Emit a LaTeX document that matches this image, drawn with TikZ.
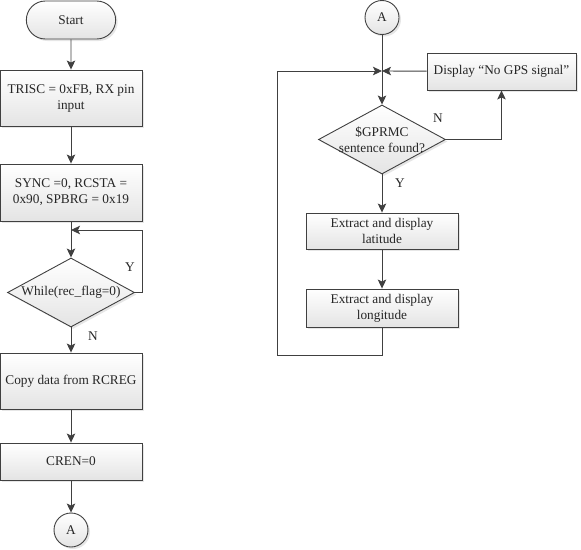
\documentclass[tikz,border=0pt]{standalone}
\usepackage{fontspec}
\setmainfont{Liberation Serif}
\usepackage{tikz}
\usetikzlibrary{arrows.meta,shapes.geometric,shapes.misc,shadows}

\definecolor{linegray}{HTML}{404040}
\definecolor{fillgray}{HTML}{E4E4E4}

\begin{document}
\begin{tikzpicture}[x=1pt,y=-1pt,>={Stealth[length=9pt,width=8.5pt,inset=2pt]},
                    line width=0.9pt,draw=linegray,
                    every node/.style={font=\fontsize{13.3}{16}\selectfont,text=black!85},
                    shaded/.style={draw=linegray,top color=white,bottom color=fillgray,
                      drop shadow={opacity=0.2,shadow xshift=2pt,shadow yshift=-2pt}},
                    process/.style={shaded,rectangle,minimum width=142pt,align=center,inner sep=0pt},
                    terminal/.style={shaded,rounded rectangle,minimum width=96pt,minimum height=38pt},
                    decision/.style={shaded,diamond,minimum width=127pt,minimum height=69pt,inner sep=0pt},
                    connector/.style={shaded,circle,minimum size=34pt,inner sep=0pt},
                    flow/.style={->,draw=linegray}]
  \useasboundingbox (0,0) rectangle (581,549);

  % left column
  \node[terminal] (start) at (71,20) {Start};
  \node[process,minimum height=56pt] (trisc) [below of=start,node distance=78pt] {TRISC = 0xFB, RX pin\\input};
  \node[process,minimum height=57pt] (sync) [below of=trisc,node distance=94.5pt] {SYNC =0, RCSTA =\\0x90, SPBRG = 0x19};
  \node[decision,label=center:{While(rec\_flag=0)}] (recflag) [below of=sync,node distance=100pt] {};
  \node[process,minimum height=56pt] (copy) [below of=recflag,node distance=88.5pt] {Copy data from RCREG};
  \node[process,minimum height=37pt] (cren) [below of=copy,node distance=80.5pt] {CREN=0};
  \node[connector] (outA) [below of=cren,node distance=68.5pt] {A};

  \coordinate (loopin) at (71,230);

  \draw[flow] (start) -- (trisc);
  \draw[flow] (trisc) -- (sync);
  \draw[flow] (sync) -- (recflag);
  \draw[flow] (recflag.east) -- ++(7,0) |- (loopin);
  \draw[flow] (recflag) -- (copy);
  \draw[flow] (copy) -- (cren);
  \draw[flow] (cren) -- (outA);

  \node at (130,267) {Y};
  \node at (93,336) {N};

  % right column
  \node[connector] (inA) at (382,17.5) {A};
  \node[decision,label={[align=center]center:\$GPRMC\\sentence found?}] (gprmc) [below of=inA,node distance=122pt] {};
  \node[process,minimum width=152pt,minimum height=36pt] (lat) [below of=gprmc,node distance=91.5pt] {Extract and display\\latitude};
  \node[process,minimum width=152pt,minimum height=38pt] (lon) [below of=lat,node distance=77pt] {Extract and display\\longitude};
  \node[process,minimum width=149pt,minimum height=37pt] (nogps) at (501.5,71.5) {Display “No GPS signal”};

  \coordinate (join) at (382,71);
  \coordinate (back) at (277,355);

  \draw[flow] (inA) -- (gprmc);
  \draw[flow] (nogps) -- (join);
  \draw[flow] (gprmc.east) -| (nogps.south);
  \draw[flow] (gprmc) -- (lat);
  \draw[flow] (lat) -- (lon);
  \draw[flow] (lon) |- (back) |- (join);

  \node at (438,118) {N};
  \node at (400,183) {Y};
\end{tikzpicture}
\end{document}
